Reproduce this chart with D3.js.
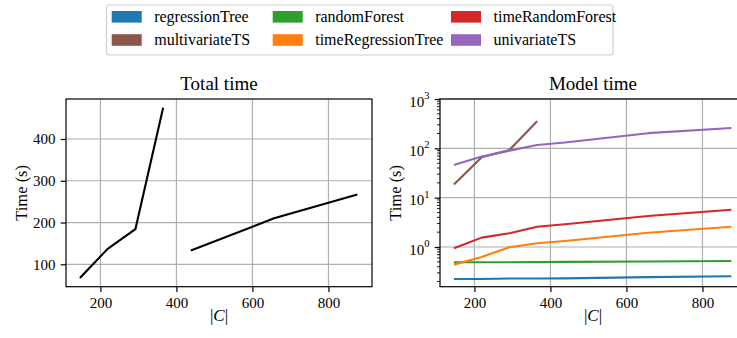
<!DOCTYPE html>
<html>
<head>
<meta charset="utf-8">
<script src="https://cdn.jsdelivr.net/npm/d3@7"></script>
<style>
html,body{margin:0;padding:0;background:#fff;}
svg{display:block;}
text{font-family:"Liberation Serif","Times New Roman",serif;fill:#000;}
</style>
</head>
<body>
<svg id="chart" width="737" height="338"></svg>
<script>
// ---------- DATA ----------
const sizes = [146, 219, 292, 365, 438, 657, 876];          // |C|
const regressionTree     = [0.225, 0.225, 0.23, 0.23, 0.232, 0.245, 0.256];
const randomForest       = [0.49, 0.49, 0.49, 0.495, 0.5, 0.51, 0.52];
const timeRandomForest   = [0.94, 1.55, 1.9, 2.58, 2.89, 4.25, 5.7];
const timeRegressionTree = [0.44, 0.63, 0.99, 1.19, 1.32, 1.95, 2.58];
const univariateTS       = [46, 68, 90, 117, 131, 203, 258];
const multivariateTS     = [18.4, 66, 93, 355, null, null, null];
// total time: two separate segments
const totalSizesA = [146, 219, 292, 365];
const totalTimeA  = [67, 137, 184, 475];
const totalSizesB = [438, 657, 876];
const totalTimeB  = [133, 210, 267];

const seriesNames  = ["regressionTree", "multivariateTS", "randomForest", "timeRegressionTree", "timeRandomForest", "univariateTS"];
const seriesColors = ["#1f77b4", "#8c564b", "#2ca02c", "#ff7f0e", "#d62728", "#9467bd"];
const seriesValues = [regressionTree, multivariateTS, randomForest, timeRegressionTree, timeRandomForest, univariateTS];
const xTicks = [200, 400, 600, 800];
const leftYTicks = [100, 200, 300, 400];
const rightYTicks = [1, 10, 100, 1000];
const titles = ["Total time", "Model time"];

// ---------- LAYOUT ----------
const svg = d3.select("#chart");
const yTop = 99, yBottom = 286.7;
const tickLen = 5.25, minorLen = 3, pad = 5.25;
const gridColor = "#b0b0b0";
const xDomain = [109.4, 914.6];

function drawXAxis(g, x) {
  g.append("g").selectAll("line").data(xTicks).join("line")
    .attr("x1", d => x(d)).attr("x2", d => x(d))
    .attr("y1", yTop).attr("y2", yBottom)
    .attr("stroke", gridColor).attr("stroke-width", 1.2);
  const ax = g.append("g").attr("transform", `translate(0,${yBottom})`)
    .call(d3.axisBottom(x).tickValues(xTicks).tickSize(tickLen).tickPadding(pad).tickFormat(d3.format("d")));
  ax.select(".domain").remove();
  ax.selectAll(".tick line").attr("stroke", "#000").attr("stroke-width", 1.2);
  ax.selectAll(".tick text").attr("font-size", 15).attr("font-family", "Liberation Serif").attr("fill", "#000").attr("dy", "0.72em");
}

function frame(g, x0, x1) {
  g.append("rect").attr("x", x0).attr("y", yTop).attr("width", x1 - x0).attr("height", yBottom - yTop)
    .attr("fill", "none").attr("stroke", "#000").attr("stroke-width", 1.2);
}

function labels(g, x0, x1, title) {
  const cx = (x0 + x1) / 2;
  g.append("text").attr("x", cx).attr("y", 90).attr("text-anchor", "middle")
    .attr("font-size", 19).text(title);
  const xl = g.append("text").attr("x", cx).attr("y", 321).attr("text-anchor", "middle").attr("font-size", 17);
  xl.append("tspan").text("|");
  xl.append("tspan").attr("font-style", "italic").text("C");
  xl.append("tspan").text("|");
  g.append("text").attr("transform", `translate(${x0 - 39.5},${(yTop + yBottom) / 2}) rotate(-90)`)
    .attr("text-anchor", "middle").attr("font-size", 16.5).text("Time (s)");
}

// ---------- LEFT: Total time ----------
{
  const x0 = 66, x1 = 372;
  const g = svg.append("g");
  const x = d3.scaleLinear().domain(xDomain).range([x0, x1]);
  const y = d3.scaleLinear().domain([46.4, 495.7]).range([yBottom, yTop]);
  g.append("g").selectAll("line").data(leftYTicks).join("line")
    .attr("x1", x0).attr("x2", x1).attr("y1", d => y(d)).attr("y2", d => y(d))
    .attr("stroke", gridColor).attr("stroke-width", 1.2);
  drawXAxis(g, x);
  const ay = g.append("g").attr("transform", `translate(${x0},0)`)
    .call(d3.axisLeft(y).tickValues(leftYTicks).tickSize(tickLen).tickPadding(pad).tickFormat(d3.format("d")));
  ay.select(".domain").remove();
  ay.selectAll(".tick line").attr("stroke", "#000").attr("stroke-width", 1.2);
  ay.selectAll(".tick text").attr("font-size", 15).attr("font-family", "Liberation Serif").attr("fill", "#000");
  const line = d3.line().x(d => x(d[0])).y(d => y(d[1]));
  [[totalSizesA, totalTimeA], [totalSizesB, totalTimeB]].forEach(([xs, ys]) => {
    g.append("path").datum(xs.map((v, i) => [v, ys[i]])).attr("d", line)
      .attr("fill", "none").attr("stroke", "#000").attr("stroke-width", 2.1).attr("stroke-linejoin", "round");
  });
  frame(g, x0, x1);
  labels(g, x0, x1, titles[0]);
}

// ---------- RIGHT: Model time ----------
{
  const x0 = 440, x1 = 746;
  const g = svg.append("g");
  const x = d3.scaleLinear().domain(xDomain).range([x0, x1]);
  const y = d3.scaleLog().domain([0.157, 1000]).range([yBottom, yTop]);
  g.append("g").selectAll("line").data(rightYTicks).join("line")
    .attr("x1", x0).attr("x2", x1).attr("y1", d => y(d)).attr("y2", d => y(d))
    .attr("stroke", gridColor).attr("stroke-width", 1.2);
  drawXAxis(g, x);
  const minors = [];
  [0.1, 1, 10, 100].forEach(dec => { for (let k = 2; k <= 9; k++) { const v = dec * k; if (v >= 0.157 && v <= 1000) minors.push(v); } });
  g.append("g").selectAll("line").data(minors).join("line")
    .attr("x1", x0 - minorLen).attr("x2", x0).attr("y1", d => y(d)).attr("y2", d => y(d))
    .attr("stroke", "#000").attr("stroke-width", 0.9);
  const ay = g.append("g").attr("transform", `translate(${x0},0)`)
    .call(d3.axisLeft(y).tickValues(rightYTicks).tickSize(tickLen).tickPadding(pad).tickFormat(""));
  ay.select(".domain").remove();
  ay.selectAll(".tick line").attr("stroke", "#000").attr("stroke-width", 1.2);
  ay.selectAll(".tick").each(function (d) {
    const t = d3.select(this).append("text").attr("x", -(tickLen + pad)).attr("y", 7)
      .attr("text-anchor", "end").attr("font-size", 15).attr("fill", "#000");
    t.append("tspan").text("10");
    t.append("tspan").attr("font-size", 10.5).attr("dy", -7.5).text(String(Math.round(Math.log10(d))));
  });
  const line = d3.line().defined(d => d[1] != null).x(d => x(d[0])).y(d => y(d[1]));
  seriesValues.forEach((vals, i) => {
    g.append("path").datum(sizes.map((s, j) => [s, vals[j]])).attr("d", line)
      .attr("fill", "none").attr("stroke", seriesColors[i]).attr("stroke-width", 2.1).attr("stroke-linejoin", "round");
  });
  frame(g, x0, x1);
  labels(g, x0, x1, titles[1]);
}

// ---------- LEGEND ----------
{
  const g = svg.append("g");
  g.append("rect").attr("x", 106.5).attr("y", 5).attr("width", 506.5).attr("height", 50)
    .attr("rx", 3).attr("fill", "#fff").attr("stroke", "#d0d0d0").attr("stroke-width", 1.2);
  const colX = [111.7, 272.7, 451];
  const rowY = [16.8, 40];
  seriesNames.forEach((name, i) => {
    const c = Math.floor(i / 2), r = i % 2;
    g.append("rect").attr("x", colX[c]).attr("y", rowY[r] - 5.8).attr("width", 30).attr("height", 11.6)
      .attr("fill", seriesColors[i]);
    g.append("text").attr("x", colX[c] + 42.5).attr("y", rowY[r] + 5).attr("font-size", 16).text(name);
  });
}
</script>
</body>
</html>
